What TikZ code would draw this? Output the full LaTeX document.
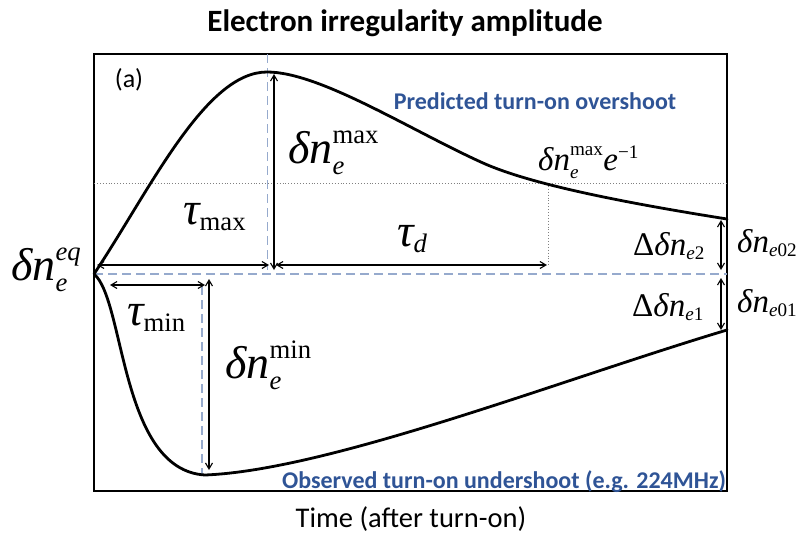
\RequirePackage{fix-cm}
\documentclass[tikz,border=0pt]{standalone}
\usepackage{fontspec}
\setmainfont{Carlito}
\newfontfamily\tms{Liberation Serif}
\usetikzlibrary{arrows.meta}
\definecolor{lblue}{RGB}{47,84,150}
\definecolor{dblue}{RGB}{150,170,205}
\makeatletter
\newcommand\Bs[1]{\hbox{\tms\itshape #1}}
\newcommand\Sc[1]{\hbox{\tms\fontsize{\the\dimexpr 0.58\dimexpr\f@size pt\relax\relax}{10}\selectfont #1}}
\newcommand\Si[1]{\hbox{\tms\itshape\fontsize{\the\dimexpr 0.58\dimexpr\f@size pt\relax\relax}{10}\selectfont #1}}
\makeatother
\tikzset{
  curve/.style={line width=2.8pt,line cap=round},
  frame/.style={line width=1.8pt},
  dim/.style={line width=1.1pt,{Straight Barb[length=6pt,width=7pt]}-{Straight Barb[length=6pt,width=7pt]}},
  bdash/.style={dblue,line width=1.6pt,dash pattern=on 9pt off 5pt},
  dots/.style={gray,line width=0.9pt,dotted},
  sym/.style={font=\fontsize{46}{46}\selectfont,inner sep=0pt,anchor=base west},
  rsym/.style={font=\fontsize{33}{33}\selectfont,inner sep=0pt,anchor=base west},
  bluelbl/.style={text=lblue,font=\fontsize{24}{24}\selectfont\bfseries,inner sep=0pt}
}
\begin{document}
\begin{tikzpicture}[x=1pt,y=-1pt]
\useasboundingbox (0,0) rectangle (801,539);
\node[font=\fontsize{31}{31}\selectfont\bfseries,inner sep=0pt] (title) at (405,23) {Electron irregularity amplitude};
\draw[frame] (94,54) rectangle (727,491);
\node[font=\fontsize{26}{26}\selectfont,inner sep=0pt] (a) at (129,80) {(a)};
% guide lines
\coordinate (eqL) at (94,274);
\coordinate (eqR) at (727,274);
\draw[bdash] (eqL) -- (eqR);
\coordinate (pkT) at (267,54);
\coordinate (pkB) at (267,270);
\draw[bdash,line width=1pt] (pkT) -- (pkB);
\coordinate (mnT) at (202,286);
\coordinate (mnB) at (202,474);
\draw[bdash] (mnT) -- (mnB);
\coordinate (hL) at (94,183);
\coordinate (hR) at (727,183);
\draw[dots] (hL) -- (hR);
\coordinate (dT) at (548,183);
\coordinate (dB) at (548,266);
\draw[dots] (dT) -- (dB);
% curves
\coordinate (st) at (94,274);
\coordinate (pk) at (267,72);
\coordinate (ov) at (727,219);
\coordinate (mn) at (205,475);
\coordinate (un) at (727,330);
\draw[curve] (st) .. controls (150,190) and (205,72) .. (pk)
  .. controls (320,72) and (410,130) .. (483,163)
  .. controls (530,184) and (620,202) .. (ov);
\draw[curve] (st) .. controls (125,300) and (120,470) .. (mn)
  .. controls (330,470) and (560,380) .. (un);
% dimension arrows
\coordinate (a1) at (97,265);
\coordinate (a2) at (269,265);
\draw[dim] (a1) -- (a2);
\coordinate (a3) at (276,265);
\coordinate (a4) at (547,265);
\draw[dim] (a3) -- (a4);
\coordinate (a5) at (274,74);
\coordinate (a6) at (274,270);
\draw[dim] (a5) -- (a6);
\coordinate (b1) at (110,285);
\coordinate (b2) at (205,285);
\draw[dim] (b1) -- (b2);
\coordinate (b3) at (209,279);
\coordinate (b4) at (209,470);
\draw[dim] (b3) -- (b4);
\coordinate (c1) at (721,220);
\coordinate (c2) at (721,270);
\draw[dim] (c1) -- (c2);
\coordinate (c3) at (721,278);
\coordinate (c4) at (721,330);
\draw[dim] (c3) -- (c4);
% symbols
\node[sym] (neq) at (11,280) {$\Bs{δn}^{\Si{eq}}_{\Si{e}}$};
\node[sym] (tmax) at (183,224) {$\Bs{τ}_{\Sc{max}}$};
\node[sym] (td) at (397,246) {$\Bs{τ}_{\Si{d}}$};
\node[sym] (nmax) at (288,163) {$\Bs{δn}^{\Sc{max}}_{\Si{e}}$};
\node[rsym] (nmaxe) at (538,170) {$\Bs{δn}^{\Sc{max}}_{\Si{e}}\Bs{e}^{\Sc{−1}}$};
\node[sym] (tmin) at (127,325) {$\Bs{τ}_{\Sc{min}}$};
\node[sym] (nmin) at (225,378) {$\Bs{δn}^{\Sc{min}}_{\Si{e}}$};
\node[rsym] (dd2) at (633,255) {$\hbox{\tms Δ}\Bs{δn}_{\Si{e}\Sc{2}}$};
\node[rsym] (d02) at (737,252) {$\Bs{δn}_{\Si{e}\Sc{02}}$};
\node[rsym] (dd1) at (632,316) {$\hbox{\tms Δ}\Bs{δn}_{\Si{e}\Sc{1}}$};
\node[rsym] (d01) at (737,312) {$\Bs{δn}_{\Si{e}\Sc{01}}$};
% labels
\node[bluelbl] (pred) at (535,101) {Predicted turn-on overshoot};
\node[bluelbl] (obs) at (504,482) {Observed turn-on undershoot (e.g. 224MHz)};
\node[font=\fontsize{28.5}{28.5}\selectfont,inner sep=0pt] (time) at (411,519) {Time (after turn-on)};
\end{tikzpicture}
\end{document}
